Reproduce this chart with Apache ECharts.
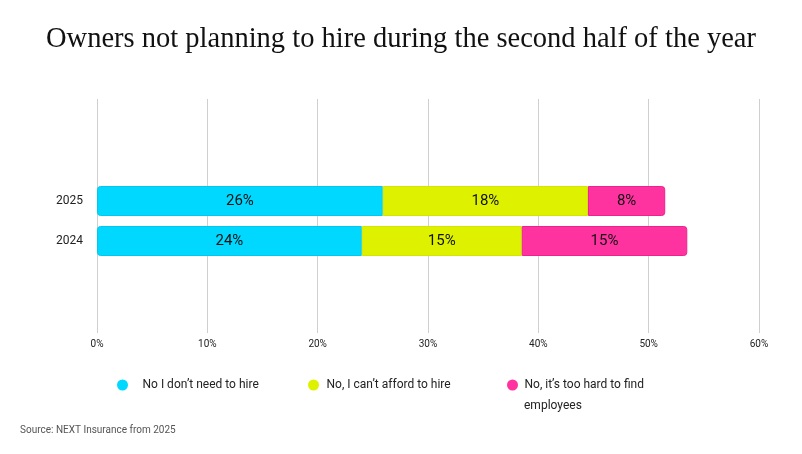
<!DOCTYPE html>
<html>
<head>
<meta charset="utf-8">
<script src="https://cdn.jsdelivr.net/npm/echarts@6/dist/echarts.min.js"></script>
<style>
html, body { margin: 0; padding: 0; background: #fff; }
#main { width: 802px; height: 454px; }
</style>
</head>
<body>
<div id="main"></div>
<script>
var years = ['2024', '2025'];
var seriesNames = ['No I don\u2019t need to hire', 'No, I can\u2019t afford to hire', 'No, it\u2019s too hard to find employees'];
var noNeed = [24.0, 25.9];
var cantAfford = [14.5, 18.6];
var tooHard = [15.0, 7.0];
var noNeedLabels = ['24%', '26%'];
var cantAffordLabels = ['15%', '18%'];
var tooHardLabels = ['15%', '8%'];
var xTicks = [0, 10, 20, 30, 40, 50, 60];

var colors = ['#00d8ff', '#def200', '#ff33a0'];
var borders = ['#00c8f0', '#d2e600', '#f0208c'];
var font = 'Roboto';

var myChart = echarts.init(document.getElementById('main'));

function makeSeries(i, values, labels, radius) {
	return {
		name: seriesNames[i],
		type: 'bar',
		stack: 'total',
		xAxisIndex: 1,
		yAxisIndex: 1,
		barWidth: 30,
		data: values,
		itemStyle: {
			color: colors[i],
			borderColor: borders[i],
			borderWidth: 1,
			borderRadius: radius
		},
		label: {
			show: true,
			position: 'inside',
			color: '#111',
			fontFamily: font,
			fontSize: 15,
			formatter: function (p) {
				return labels[p.dataIndex];
			}
		}
	};
}

// one legend per item so each can sit where the original puts it
function makeLegend(i, left, iconBox, text) {
	return {
		left: left,
		top: 374,
		icon: 'circle',
		itemWidth: iconBox,
		itemHeight: 11,
		data: [seriesNames[i]],
		itemStyle: { borderWidth: 0 },
		formatter: function () {
			return text;
		},
		textStyle: {
			fontFamily: font,
			fontSize: 12,
			color: '#222'
		}
	};
}

option = {
	backgroundColor: '#fff',
	title: {
		text: 'Owners not planning to hire during the second half of the year',
		left: 'center',
		top: 20,
		textStyle: {
			fontFamily: 'Liberation Serif',
			fontWeight: 'normal',
			fontSize: 28.5,
			color: '#111'
		}
	},
	legend: [
		makeLegend(0, 112, 30, seriesNames[0]),
		makeLegend(1, 303, 16, seriesNames[1]),
		makeLegend(2, 502, 14, 'No, it\u2019s too hard to find')
	],
	grid: [
		{ left: 97, right: 43, top: 99, bottom: 121 },
		{ left: 97, right: 43, top: 181, height: 80 }
	],
	xAxis: [{
		type: 'value',
		gridIndex: 0,
		min: xTicks[0],
		max: xTicks[xTicks.length - 1],
		interval: 10,
		axisLine: { show: false },
		axisTick: { show: false },
		splitLine: { lineStyle: { color: '#cfcfcf', width: 1 } },
		axisLabel: {
			formatter: '{value}%',
			fontFamily: font,
			fontSize: 10,
			color: '#222',
			margin: 6
		}
	}, {
		type: 'value',
		gridIndex: 1,
		min: xTicks[0],
		max: xTicks[xTicks.length - 1],
		show: false
	}],
	yAxis: [{
		type: 'category',
		gridIndex: 0,
		data: years,
		show: false
	}, {
		type: 'category',
		gridIndex: 1,
		data: years,
		axisLine: { show: false },
		axisTick: { show: false },
		axisLabel: {
			fontFamily: font,
			fontSize: 12,
			color: '#222',
			margin: 14
		}
	}],
	graphic: [{
		type: 'text',
		left: 524,
		top: 400,
		style: {
			text: 'employees',
			fontFamily: font,
			fontSize: 12,
			fill: '#222'
		}
	}, {
		type: 'text',
		left: 20,
		top: 425,
		style: {
			text: 'Source: NEXT Insurance from 2025',
			fontFamily: font,
			fontSize: 10,
			fill: '#555'
		}
	}],
	series: [
		makeSeries(0, noNeed, noNeedLabels, [3, 0, 0, 3]),
		makeSeries(1, cantAfford, cantAffordLabels, 0),
		makeSeries(2, tooHard, tooHardLabels, [0, 3, 3, 0])
	]
};
myChart.setOption(option);
</script>
</body>
</html>
